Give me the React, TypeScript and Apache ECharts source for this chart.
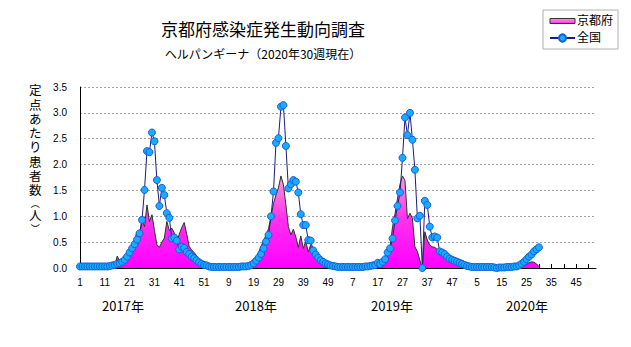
import React, { useEffect, useRef } from 'react';
import * as echarts from 'echarts';

const TITLE = '京都府感染症発生動向調査';
const SUBTITLE = 'ヘルパンギーナ（2020年30週現在）';
const Y_NAME_CHARS = ['定', '点', 'あ', 'た', 'り', '患', '者', '数', '︵', '人', '︶'];
const YEARS = ['2017', '2018', '2019', '2020'];
const YEAR_LABELS = ['2017年', '2018年', '2019年', '2020年'];
const WEEKS_IN_YEAR = [52, 52, 52, 53];
const SERIES_NAMES = ['京都府', '全国'];
const Y_MIN = 0;
const Y_MAX = 3.5;
const Y_STEP = 0.5;

// 京都府 (定点あたり患者数)
const KYOTO_2017 = [
  0, 0, 0, 0, 0, 0, 0, 0, 0, 0,
  0, 0, 0, 0, 0.03, 0.23, 0.13, 0.17, 0.2, 0.27,
  0.35, 0.45, 0.55, 0.7, 0.62, 0.93, 0.8, 1.22, 0.9, 1.03,
  0.73, 0.45, 0.4, 0.5, 0.58, 0.9, 0.73, 0.77, 0.68, 0.51,
  0.65, 0.78, 0.88, 0.66, 0.42, 0.35, 0.3, 0.24, 0.15, 0.07,
  0.02, 0,
];
const KYOTO_2018 = [
  0, 0, 0, 0, 0, 0, 0, 0, 0, 0,
  0, 0, 0, 0, 0, 0, 0.01, 0.03, 0.08, 0.18,
  0.3, 0.42, 0.53, 0.64, 0.76, 1.0, 1.25, 1.41, 1.55, 1.78,
  1.61, 1.22, 0.8, 0.64, 0.75, 0.6, 0.4, 0.62, 0.38, 0.52,
  0.31, 0.45, 0.24, 0.2, 0.16, 0.12, 0.08, 0.05, 0.03, 0.01,
  0, 0,
];
const KYOTO_2019 = [
  0, 0, 0, 0, 0, 0, 0, 0, 0, 0,
  0, 0, 0, 0, 0.01, 0.03, 0.05, 0.08, 0.14, 0.22,
  0.3, 0.41, 0.8, 1.05, 1.35, 1.62, 1.78, 1.69, 0.95, 1.06,
  0.96, 0.41, 0.32, 0.15, 0, 0.7, 0.54, 0.44, 0.41, 0.4,
  0.36, 0.3, 0.26, 0.22, 0.19, 0.15, 0.12, 0.09, 0.06, 0.04,
  0.03, 0.02,
];
const KYOTO_2020 = [
  0, 0, 0, 0, 0, 0, 0, 0, 0, 0,
  0, 0, 0, 0, 0, 0, 0, 0, 0, 0,
  0, 0.01, 0.03, 0.05, 0.07, 0.1, 0.12, 0.11, 0.08, 0.03,
];

// 全国 (定点あたり患者数)
const NATIONAL_2017 = [
  0.03, 0.03, 0.03, 0.03, 0.03, 0.03, 0.03, 0.03, 0.03, 0.03,
  0.03, 0.03, 0.04, 0.05, 0.06, 0.08, 0.09, 0.12, 0.16, 0.22,
  0.3, 0.38, 0.46, 0.55, 0.67, 0.93, 1.51, 2.26, 2.24, 2.62,
  2.45, 1.7, 1.2, 1.55, 1.41, 1.06, 0.97, 0.57, 0.59, 0.53,
  0.36, 0.41, 0.39, 0.31, 0.27, 0.22, 0.19, 0.15, 0.11, 0.08,
  0.06, 0.05,
];
const NATIONAL_2018 = [
  0.03, 0.02, 0.02, 0.02, 0.02, 0.02, 0.02, 0.02, 0.02, 0.02,
  0.02, 0.02, 0.02, 0.03, 0.03, 0.03, 0.04, 0.06, 0.09, 0.14,
  0.2, 0.27, 0.38, 0.51, 0.64, 1.0, 1.48, 2.42, 2.51, 3.12,
  3.15, 2.36, 1.54, 1.62, 1.7, 1.67, 1.46, 1.04, 0.83, 0.83,
  0.54, 0.53, 0.34, 0.26, 0.2, 0.15, 0.12, 0.09, 0.07, 0.05,
  0.04, 0.03,
];
const NATIONAL_2019 = [
  0.02, 0.02, 0.02, 0.02, 0.02, 0.02, 0.02, 0.02, 0.02, 0.02,
  0.02, 0.03, 0.03, 0.04, 0.05, 0.06, 0.1, 0.08, 0.12, 0.17,
  0.3, 0.38, 0.57, 0.92, 1.2, 1.46, 2.13, 2.91, 2.57, 3.0,
  2.48, 1.9, 0.96, 1.01, 0, 1.3, 1.22, 0.8, 0.59, 0.61,
  0.59, 0.32, 0.3, 0.27, 0.22, 0.18, 0.16, 0.14, 0.12, 0.1,
  0.08, 0.06,
];
const NATIONAL_2020 = [
  0.04, 0.03, 0.02, 0.02, 0.02, 0.02, 0.02, 0.02, 0.02, 0.02,
  0.02, 0.01, 0.0, 0.01, 0.01, 0.01, 0.02, 0.02, 0.02, 0.03,
  0.03, 0.05, 0.08, 0.12, 0.17, 0.22, 0.26, 0.32, 0.36, 0.4,
];

const JP_FONT = "'Noto Sans CJK JP', 'Noto Sans', sans-serif";
// Latin font first (compact line metrics), CJK glyphs fall back to Noto Sans CJK JP
const JP_COMPACT_FONT = "'Liberation Sans', 'Noto Sans CJK JP', sans-serif";
const NUM_FONT = "'Liberation Sans', 'DejaVu Sans', sans-serif";

export default function App() {
  const ref = useRef<HTMLDivElement>(null);

  useEffect(() => {
    if (!ref.current) return;
    const chart = echarts.init(ref.current, undefined, { renderer: 'svg' });

    const categories: string[] = [];
    YEARS.forEach((y, k) => {
      for (let w = 1; w <= WEEKS_IN_YEAR[k]; w++) categories.push(`${y}-${w}`);
    });
    const kyoto = [...KYOTO_2017, ...KYOTO_2018, ...KYOTO_2019, ...KYOTO_2020];
    const national = [...NATIONAL_2017, ...NATIONAL_2018, ...NATIONAL_2019, ...NATIONAL_2020];

    const areaGradient = new echarts.graphic.LinearGradient(0, 0, 0, 1, [
      { offset: 0, color: '#ff9ad8' },
      { offset: 0.45, color: '#ff33ee' },
      { offset: 1, color: '#ff00ff' },
    ]);
    const legendGradient = new echarts.graphic.LinearGradient(0, 0, 0, 1, [
      { offset: 0, color: '#ff9ad8' },
      { offset: 1, color: '#ff33ee' },
    ]);

    const yearCenters = [123, 256, 392, 527];

    chart.setOption({
      animation: false,
      backgroundColor: '#ffffff',
      title: {
        text: TITLE,
        subtext: SUBTITLE,
        left: 258,
        top: 15,
        textAlign: 'center',
        itemGap: 10,
        textStyle: { fontFamily: JP_FONT, fontSize: 17, fontWeight: 'normal', color: '#000' },
        subtextStyle: { fontFamily: JP_FONT, fontSize: 12, color: '#000' },
      },
      legend: {
        orient: 'vertical',
        left: 543,
        top: 10,
        padding: [4, 5, 4, 6],
        itemWidth: 25,
        itemHeight: 9,
        itemGap: 3,
        borderColor: '#b0b0b0',
        borderWidth: 1,
        textStyle: {
          fontFamily: JP_COMPACT_FONT,
          fontSize: 12,
          lineHeight: 14,
          color: '#000',
          padding: [0, 0, 0, -3],
        },
        data: [
          {
            name: SERIES_NAMES[0],
            icon: 'path://M0,0H25V5H0Z',
            itemStyle: { color: legendGradient, borderColor: '#333', borderWidth: 1 },
          },
          { name: SERIES_NAMES[1] },
        ],
      },
      grid: { left: 80, right: 35, top: 87, bottom: 79, containLabel: false },
      xAxis: {
        type: 'category',
        boundaryGap: false,
        data: categories,
        axisLine: { lineStyle: { color: '#000', width: 1 } },
        axisTick: { inside: true, length: 4, interval: 4, lineStyle: { color: '#000' } },
        axisLabel: {
          interval: 9,
          formatter: (v: string) => v.split('-')[1],
          fontFamily: NUM_FONT,
          fontSize: 10,
          color: '#000',
          margin: 9,
        },
        splitLine: { show: false },
      },
      yAxis: {
        type: 'value',
        min: Y_MIN,
        max: Y_MAX,
        interval: Y_STEP,
        axisLine: { show: true, lineStyle: { color: '#000', width: 1 } },
        axisTick: { show: false },
        axisLabel: {
          formatter: (v: number) => v.toFixed(1),
          fontFamily: NUM_FONT,
          fontSize: 10,
          color: '#000',
          margin: 13,
        },
        splitLine: { show: true, lineStyle: { color: '#a0a0a0', type: [2, 2], width: 1 } },
      },
      graphic: [
        {
          type: 'text',
          left: 29,
          top: 85,
          z: 10,
          style: {
            text: Y_NAME_CHARS.map((c) => (c === '︵' || c === '︶' ? `{p|${c}}` : `{a|${c}}`)).join('\n'),
            rich: {
              a: { fontFamily: JP_COMPACT_FONT, fontSize: 12.5, lineHeight: 14.3, fill: '#000' },
              p: { fontFamily: JP_COMPACT_FONT, fontSize: 9, lineHeight: 10.5, fill: '#000', align: 'center' },
            },
            fill: '#000',
          },
        },
        ...YEAR_LABELS.map((t, k) => ({
          type: 'text',
          x: yearCenters[k],
          y: 305,
          style: {
            text: t,
            fontFamily: JP_FONT,
            fontSize: 13,
            fill: '#000',
            textAlign: 'center',
            textVerticalAlign: 'middle',
          },
        })),
      ],
      series: [
        {
          name: SERIES_NAMES[0],
          type: 'line',
          data: kyoto,
          symbol: 'none',
          showSymbol: false,
          z: 2,
          lineStyle: { color: '#303030', width: 1 },
          itemStyle: { color: '#ff40ee' },
          areaStyle: { color: areaGradient, opacity: 1 },
        },
        {
          name: SERIES_NAMES[1],
          type: 'line',
          data: national,
          symbol: 'circle',
          symbolSize: 7,
          showSymbol: true,
          showAllSymbol: true,
          z: 3,
          lineStyle: { color: '#1c1c80', width: 1 },
          itemStyle: { color: '#1aaaff', borderColor: '#1060e0', borderWidth: 1 },
        },
      ],
    });

    return () => chart.dispose();
  }, []);

  return (
    <div
      ref={ref}
      style={{ position: 'absolute', left: 0, top: 0, width: 631, height: 347 }}
    />
  );
}
